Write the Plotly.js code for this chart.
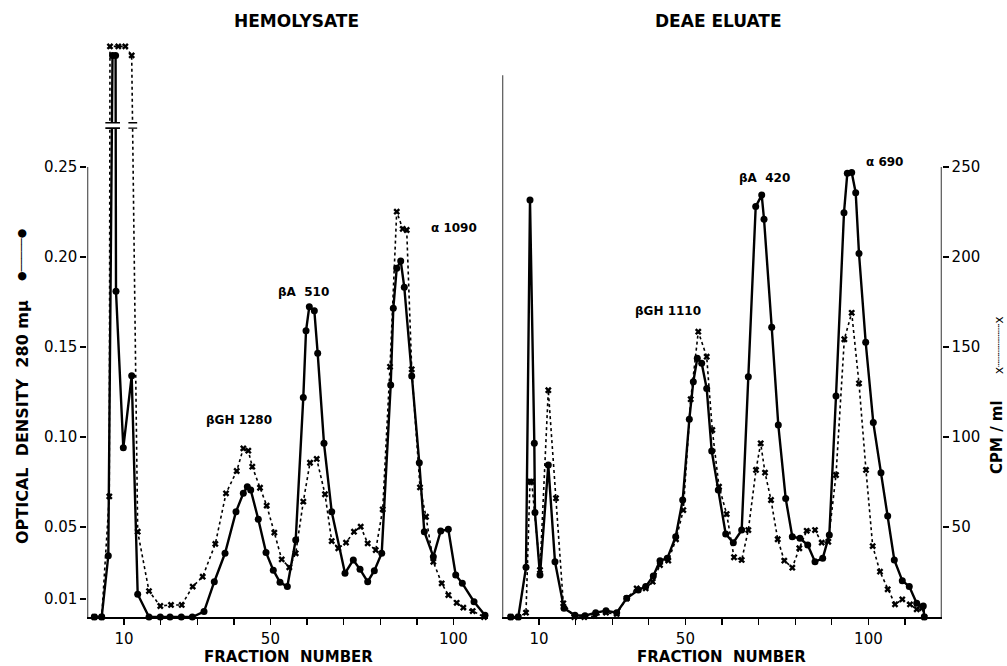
<!DOCTYPE html>
<html>
<head>
<meta charset="utf-8">
<script src="https://cdn.plot.ly/plotly-3.0.1.min.js"></script>
<style>html,body{margin:0;padding:0;background:#fff;}#chart{width:1007px;height:666px;}</style>
</head>
<body>
<div id="chart"></div>
<script>
// ---------- DATA ----------
// Left panel (HEMOLYSATE): optical density 280 mμ (solid)
const hemoFractionOD = [1.89,3.91,5.71,6.86,7.7,7.81,9.81,12.1,13.74,16.83,19.92,22.57,25.66,28.66,31.86,34.67,37.6,40.6,42.6,43.69,44.62,46.69,48.8,50.79,52.62,54.62,56.91,58.99,59.73,60.63,62.0,62.92,64.64,66.75,70.38,72.65,74.48,76.58,78.39,80.41,82.87,83.58,84.51,85.6,86.58,88.61,90.68,92.05,94.51,96.53,98.61,100.63,102.43,105.63,108.63];
const hemoOD = [0,0,0.034,0.312,0.312,0.181,0.094,0.134,0.0126,0,0,0,0,0,0.003,0.0196,0.0354,0.0585,0.0687,0.0724,0.0706,0.0543,0.0359,0.026,0.0193,0.0169,0.0428,0.122,0.159,0.1724,0.1702,0.1465,0.0965,0.0585,0.0243,0.0317,0.0265,0.0196,0.0257,0.0354,0.1289,0.1715,0.1937,0.1978,0.1832,0.1339,0.0857,0.0474,0.0335,0.0478,0.0487,0.0233,0.0187,0.0085,0.001];
// Left panel: CPM / ml (dotted)
const hemoFractionCPM = [1.89,3.91,5.98,6.17,8.44,10.36,12.1,13.74,16.83,19.92,22.84,25.77,28.77,31.5,34.95,37.87,40.79,42.6,43.96,45.05,47.16,48.99,51.07,53.09,55.16,56.91,58.99,60.82,62.65,64.92,66.75,68.55,70.66,72.84,74.67,76.58,78.77,80.68,82.68,84.51,86.15,87.24,88.61,90.87,92.51,94.51,96.8,98.61,100.9,102.7,105.27,108.36];
const hemoCPM = [0,0,67,317,317,317,312,47.4,14.4,6.1,6.7,6.7,16.9,22.4,40.6,68.7,81.1,93.7,92.4,83.5,71.8,61.9,46.9,32.0,27.6,35.4,64.1,85.7,87.8,68.2,42.2,38.2,41.3,47.4,50.2,40.9,37.2,59.8,139,225.2,215.6,215,137.6,72,55.7,30.7,18.7,12.2,7.9,5.2,3.3,0];

// Right panel (DEAE ELUATE): optical density (solid)
const deaeFractionOD = [2.27,4.34,6.45,7.54,8.72,8.9,10.27,12.54,14.37,16.83,19.84,22.57,25.49,28.31,31.23,33.96,37.13,39.15,41.23,43.06,45.05,47.35,49.26,51.07,52.16,53.25,54.45,55.82,57.19,58.99,61.01,63.09,65.38,67.19,69.21,70.85,71.48,73.58,75.38,77.4,79.21,81.31,83.42,85.41,87.51,89.32,91.15,93.33,94.24,95.44,96.53,97.43,99.26,101.34,103.44,105.27,107.08,109.26,111.17,113.2,115.0,115.27];
const deaeOD = [0,0,0.0276,0.2317,0.0965,0.058,0.0233,0.0844,0.0307,0.0048,0.001,0.0007,0.0024,0.0035,0.0024,0.0104,0.015,0.0169,0.0228,0.0313,0.0326,0.0446,0.065,0.1098,0.1307,0.1437,0.141,0.127,0.0922,0.0706,0.0461,0.0413,0.0483,0.1335,0.228,0.2344,0.221,0.161,0.1067,0.0659,0.0446,0.0437,0.04,0.0307,0.0326,0.0456,0.1228,0.2246,0.2465,0.247,0.2357,0.202,0.1526,0.108,0.0802,0.0561,0.0317,0.0202,0.0169,0.0076,0.0061,0];
// Right panel: CPM / ml (dotted)
const deaeFractionCPM = [2.27,4.34,6.45,7.54,8.0,10.27,12.54,14.64,16.64,19.64,22.38,25.3,28.31,31.23,33.96,36.69,39.15,41.07,43.06,45.33,47.43,49.43,51.45,53.52,55.82,57.35,59.18,61.28,63.28,65.38,67.19,69.29,70.57,71.75,73.39,75.22,77.02,79.21,81.12,83.14,85.41,87.24,89.04,91.15,93.42,95.44,97.43,99.34,101.17,103.17,105.27,107.27,109.26,111.36,113.2,114.64,115.27];
const deaeCPM = [0,0,2.4,75.2,75.2,26.1,126,66,7.6,0,0,0.6,2.4,1.7,10.4,15.9,15.9,19.6,28.9,31.3,43.2,59.4,121,158.5,144.6,103.9,72.4,57.2,33.2,31.7,48.3,81.7,96.5,80.2,65,43.2,31.3,27.4,38.2,47.9,48.3,41.3,41.8,78.9,154.3,169,129.8,81.7,39.4,25.2,15.4,7,9.8,7,4.3,5,0];

// Tick labels
const xTickValsL = [10,20,30,40,50,60,70,80,90,100];
const xTickTextL = ['10','','','','50','','','','','100'];
const xTickValsR = [10,20,30,40,50,60,70,80,90,100,110];
const xTickTextR = ['10','','','','50','','','','','100',''];
const odTickVals = [0.01,0.05,0.10,0.15,0.20,0.25];
const odTickText = ['0.01','0.05','0.10','0.15','0.20','0.25'];
const cpmTickVals = [50,100,150,200,250];
const cpmTickText = ['50','100','150','200','250'];

// ---------- LAYOUT HELPERS ----------
const W = 1007, H = 666;
const FONT = 'DejaVu Sans';
const px = v => v / W;
const py = v => (H - v) / H;
const yDom = [py(617), py(45)];
const odRange = [0, 0.31778];
const cpmRange = [0, 317.78];

const solidStyle = {
  mode: 'lines+markers',
  line: {color: '#000', width: 2.4},
  marker: {symbol: 'circle', size: 7, color: '#000'},
  cliponaxis: false, showlegend: false, hoverinfo: 'skip'
};
const dotStyle = {
  mode: 'lines+markers',
  line: {color: '#000', width: 1.6, dash: 'dot'},
  marker: {symbol: 'x', size: 6, color: '#000'},
  cliponaxis: false, showlegend: false, hoverinfo: 'skip'
};

const traces = [
  Object.assign({x: hemoFractionCPM, y: hemoCPM, xaxis: 'x', yaxis: 'y3'}, dotStyle),
  Object.assign({x: hemoFractionOD, y: hemoOD, xaxis: 'x', yaxis: 'y'}, solidStyle),
  Object.assign({x: deaeFractionCPM, y: deaeCPM, xaxis: 'x2', yaxis: 'y4'}, dotStyle),
  Object.assign({x: deaeFractionOD, y: deaeOD, xaxis: 'x2', yaxis: 'y2'}, solidStyle)
];

const xCommon = {
  showline: true, linecolor: '#000', linewidth: 1.6,
  ticks: 'outside', ticklen: 6, tickwidth: 1.4, tickcolor: '#000',
  ticklabelstandoff: 1,
  showgrid: false, zeroline: false, fixedrange: true,
  tickfont: {family: FONT, size: 15, color: '#000'}
};

function ann(text, x, y, size, angle, opts) {
  return Object.assign({
    text: text, x: px(x), y: py(y), xref: 'paper', yref: 'paper',
    xanchor: 'center', yanchor: 'middle', showarrow: false,
    textangle: angle || 0,
    font: {family: FONT, size: size, color: '#000'}
  }, opts || {});
}

const annotations = [
  ann('<b>HEMOLYSATE</b>', 296, 21, 17),
  ann('<b>DEAE ELUATE</b>', 718, 21, 17),
  ann('<b>FRACTION  NUMBER</b>', 288, 657, 15),
  ann('<b>FRACTION  NUMBER</b>', 721, 657, 15),
  ann('<b>OPTICAL  DENSITY  280 mμ</b>', 22, 422, 16, -90),
  ann('●─────●', 22, 255, 11, -90),
  ann('<b>CPM / ml</b>', 997, 437, 15, -90),
  ann('x┈┈┈┈┈┈x', 999, 345, 12, -90),
  ann('<b>βGH 1280</b>', 239, 420, 12),
  ann('<b>βA  510</b>', 303, 292, 12),
  ann('<b>α 1090</b>', 454, 228, 12),
  ann('<b>βGH 1110</b>', 668, 311, 12),
  ann('<b>βA  420</b>', 764, 178, 12),
  ann('<b>α 690</b>', 884, 162, 12)
];

const shapes = [
  // axis lines drawn to the reference's partial lengths
  {type: 'line', xref: 'x', yref: 'y', x0: 0, x1: 0, y0: 0, y1: 0.25, line: {color: '#000', width: 1.6}},
  {type: 'line', xref: 'x2', yref: 'y2', x0: 0, x1: 0, y0: 0, y1: 0.301, line: {color: '#000', width: 1.6}},
  {type: 'line', xref: 'x2', yref: 'y4', x0: 120, x1: 120, y0: 0, y1: 250, line: {color: '#000', width: 1.6}},
  // axis break marks on the off-scale first peak
  {type: 'rect', xref: 'x', yref: 'y', x0: 4.9, x1: 8.9, y0: 0.2716, y1: 0.2746, fillcolor: '#fff', line: {width: 0}, layer: 'above'},
  {type: 'line', xref: 'x', yref: 'y', x0: 4.9, x1: 8.9, y0: 0.2746, y1: 0.2746, line: {color: '#000', width: 1.6}, layer: 'above'},
  {type: 'line', xref: 'x', yref: 'y', x0: 4.9, x1: 8.9, y0: 0.2716, y1: 0.2716, line: {color: '#000', width: 1.6}, layer: 'above'},
  {type: 'rect', xref: 'x', yref: 'y', x0: 11.2, x1: 13.6, y0: 0.2716, y1: 0.2746, fillcolor: '#fff', line: {width: 0}, layer: 'above'},
  {type: 'line', xref: 'x', yref: 'y', x0: 11.2, x1: 13.6, y0: 0.2746, y1: 0.2746, line: {color: '#000', width: 1.4}, layer: 'above'},
  {type: 'line', xref: 'x', yref: 'y', x0: 11.2, x1: 13.6, y0: 0.2716, y1: 0.2716, line: {color: '#000', width: 1.4}, layer: 'above'}
];

const layout = {
  width: W, height: H,
  margin: {l: 0, r: 0, t: 0, b: 0, pad: 0},
  paper_bgcolor: '#fff', plot_bgcolor: 'rgba(0,0,0,0)',
  showlegend: false,
  font: {family: FONT, color: '#000'},
  xaxis: Object.assign({domain: [px(87.4), px(488)], range: [0, 109.45], anchor: 'y',
    tickmode: 'array', tickvals: xTickValsL, ticktext: xTickTextL}, xCommon),
  xaxis2: Object.assign({domain: [px(502.4), px(941.6)], range: [0, 120], anchor: 'y2',
    tickmode: 'array', tickvals: xTickValsR, ticktext: xTickTextR}, xCommon),
  yaxis: {domain: yDom, range: odRange, anchor: 'x', showline: false, showgrid: false, zeroline: false,
    tickmode: 'array', tickvals: odTickVals, ticktext: odTickText,
    ticks: 'outside', ticklen: 6, tickwidth: 1.4, tickcolor: '#000', fixedrange: true,
    tickfont: {family: FONT, size: 15, color: '#000'}},
  yaxis2: {domain: yDom, range: odRange, anchor: 'x2', showline: false, showgrid: false, zeroline: false,
    showticklabels: false, ticks: '', fixedrange: true},
  yaxis3: {overlaying: 'y', anchor: 'x', range: cpmRange, visible: false, fixedrange: true},
  yaxis4: {overlaying: 'y2', anchor: 'x2', side: 'right', range: cpmRange,
    showline: false, showgrid: false, zeroline: false,
    tickmode: 'array', tickvals: cpmTickVals, ticktext: cpmTickText,
    ticks: 'outside', ticklen: 6, tickwidth: 1.4, tickcolor: '#000', fixedrange: true,
    tickfont: {family: FONT, size: 15, color: '#000'}},
  annotations: annotations,
  shapes: shapes
};

Plotly.newPlot('chart', traces, layout, {displayModeBar: false, staticPlot: true});
</script>
</body>
</html>
